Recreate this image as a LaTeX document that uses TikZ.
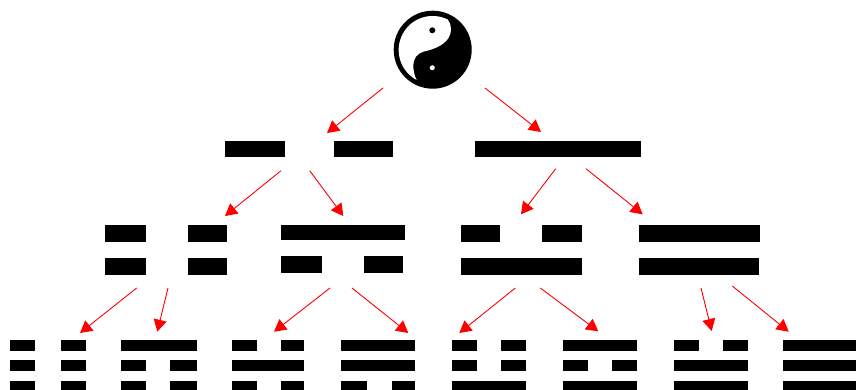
\documentclass[tikz,border=0pt]{standalone}
\usetikzlibrary{arrows.meta}
\tikzset{Trigram/.style={
    x = 1pt,
    y = -1pt,
    bar/.style = {fill=black, inner sep=0pt, outer sep=0pt},
    link/.style = {draw=red, line width=0.9pt, -{Triangle[length=12pt, width=13pt]}}
}}

\begin{document}
\begin{tikzpicture}[Trigram]
    \useasboundingbox (0,0) rectangle (856,390);

    \node [circle, fill=black, inner sep=0pt, minimum size=78pt] (taiji) at (432.7,49.7) {};
    \fill [white] (447.8,19.5) .. controls (452,25) and (452,33) .. (448.3,38.3)
        .. controls (443,46) and (433,49.5) .. (423.3,51.7)
        .. controls (417,53.5) and (413.3,59) .. (413.3,65)
        .. controls (413.3,71) and (414.5,76) .. (416.7,80)
        arc [start angle=242, end angle=63.6, radius=34pt] -- cycle;
    \node [circle, fill=black, inner sep=0pt, minimum size=6pt] (dotblack) at (432.3,30.3) {};
    \node [circle, fill=white, inner sep=0pt, minimum size=5pt] (dotwhite) at (432.3,67.7) {};

    \foreach \xa/\xb/\ya/\yb [count=\n] in {
        225/285/141/157.5, 334/392.5/141/157.5, 475/640.7/141/157.5,
        105.3/145.7/225/241.7, 188/226.7/225/241.7, 105.3/145.7/258/275, 188/226.7/258/275,
        281.3/404.7/225/240, 281.3/322/256.3/273, 364/403/256.3/273,
        461/499.7/225/241.7, 542/582.3/225/241.7, 461/582.3/258/275,
        638.7/760.3/225/241.7, 638.7/758.7/258/275}
    {
        \node [bar, minimum width={\xb-\xa}, minimum height={\yb-\ya}] (upper-\n) at ({(\xa+\xb)/2},{(\ya+\yb)/2}) {};
    }

    \foreach \xa/\xb/\ya [count=\n] in {
        10/34.7/340.3, 61/85.7/340.3, 10/34.7/360.3, 61/85.7/360.3, 10/34.7/380.7, 61/85.7/380.7,
        121/197/340.3, 121/145.7/360.3, 170.3/197/360.3, 121/145.7/380.7, 170.3/197/380.7,
        231.7/256.7/340.3, 281.3/304.3/340.3, 231.7/304.3/360.3, 231.7/256.7/380.7, 281.3/304.3/380.7,
        341.3/415.3/340.3, 341.3/415.3/360.3, 341.3/367.3/380.7, 392.3/415.3/380.7,
        452/477/340.3, 501.3/526.3/340.3, 452/477/360.3, 501.3/526.3/360.3, 452/526.3/380.7,
        563.3/637.3/340.3, 563.3/588/360.3, 612.3/637.3/360.3, 563.3/637.3/380.7,
        674/698.7/340.3, 723.3/748.3/340.3, 674/748.3/360.3, 674/748.3/380.7,
        783.3/858/340.3, 783.3/858/360.3, 783.3/858/380.7}
    {
        \node [bar, minimum width={\xb-\xa}, minimum height=11pt] (lower-\n) at ({(\xa+\xb)/2},\ya+5.5) {};
    }

    \foreach \xa/\ya/\xb/\yb [count=\n] in {
        383/88/327/133, 485/88/541/132,
        281/170.7/225/216, 309.7/170.7/343.3/216, 555.7/168.7/521/214.3, 586/168.7/642.7/214.3,
        136.7/288/80/333, 168/288/157.3/331.7, 330/288/274/331.7, 352/288/408.3/333,
        515.3/288/459.3/333, 540.3/288/598.3/331.3, 701/288/711.7/331, 732.3/286/788.7/331.7}
    {
        \coordinate (from-\n) at (\xa,\ya);
        \coordinate (to-\n) at (\xb,\yb);
        \draw [link] (from-\n) -- (to-\n);
    }
\end{tikzpicture}
\end{document}
